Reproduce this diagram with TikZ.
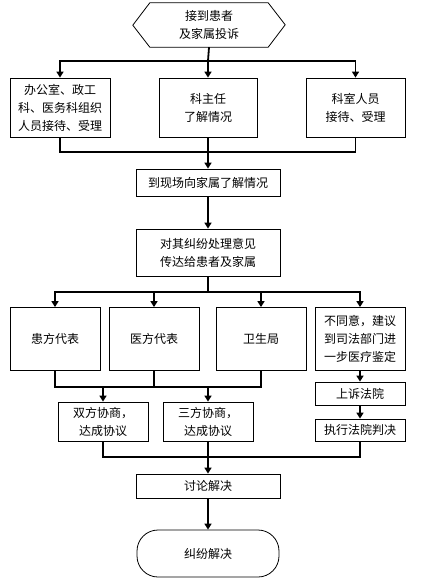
\documentclass[tikz,border=0pt]{standalone}
\usepackage{fontspec}
\newfontfamily\cjk{Noto Sans CJK SC}
\usetikzlibrary{arrows.meta}
\begin{document}
\begin{tikzpicture}[x=1pt,y=-1pt,font=\cjk\fontsize{12}{18}\selectfont,
  box/.style={draw,line width=0.8pt,align=center,inner sep=0pt},
  conn/.style={line width=1.8pt},
  arr/.style={conn,-{Triangle[width=7pt,length=6pt]}}]
\useasboundingbox (0,0) rectangle (421,581);
% top
\node[align=center,minimum width=118,minimum height=44] (start) at (209,25) {接到患者\\及家属投诉};
\draw[line width=0.8pt] (start.north west) -- (start.north east) -- ++(17,22) -- (start.south east) -- (start.south west) -- ++(-17,-22) -- cycle;
\node[box,minimum width=100,minimum height=59] (b1) at (60,107.5) {办公室、政工\\科、医务科组织\\人员接待、受理};
\node[box,minimum width=98,minimum height=59] (b2) at (208,107.5) {科主任\\了解情况};
\node[box,minimum width=99,minimum height=59] (b3) at (355.5,107.5) {科室人员\\接待、受理};
\node[box,minimum width=144,minimum height=27] (visit) at (208,182.5) {到现场向家属了解情况};
\node[box,minimum width=144,minimum height=47] (advise) at (208,252.5) {对其纠纷处理意见\\传达给患者及家属};
% middle row
\node[box,minimum width=90,minimum height=63] (p1) at (55,339) {患方代表};
\node[box,minimum width=90,minimum height=63] (p2) at (154,339) {医方代表};
\node[box,minimum width=90,minimum height=63] (p3) at (261,339) {卫生局};
\node[box,minimum width=90,minimum height=63] (p4) at (360,339) {不同意，建议\\到司法部门进\\一步医疗鉴定};
\node[box,minimum width=90,minimum height=39] (n1) at (103,421.5) {双方协商，\\达成协议};
\node[box,minimum width=90,minimum height=39] (n2) at (208,421.5) {三方协商，\\达成协议};
\node[box,minimum width=90,minimum height=23] (court) at (360,393.5) {上诉法院};
\node[box,minimum width=90,minimum height=22] (exec) at (360,430) {执行法院判决};
% bottom
\node[box,minimum width=144,minimum height=24] (talk) at (208,486) {讨论解决};
\node[draw,line width=0.8pt,rounded corners=21pt,minimum width=142,minimum height=47] (end) at (208,553.5) {纠纷解决};
% connectors
\coordinate (j1) at (208,61);
\coordinate (j2) at (208,152);
\coordinate (j3) at (208,292);
\coordinate (j4) at (154,387);
\coordinate (j5) at (208,457);
\draw[conn] (start.south) -- (j1);
\foreach \n in {b1,b2,b3} \draw[arr] (j1) -| (\n.north);
\foreach \n in {b1,b2,b3} \draw[conn] (\n.south) |- (j2);
\draw[arr] (j2) -- (visit.north);
\draw[arr] (visit) -- (advise);
\draw[conn] (advise.south) -- (j3);
\foreach \n in {p1,p2,p3,p4} \draw[arr] (j3) -| (\n.north);
\foreach \n in {p1,p2,p3} \draw[conn] (\n.south) |- (j4);
\foreach \n in {n1,n2} \draw[arr] (j4) -| (\n.north);
\draw[arr] (p4) -- (court);
\draw[arr] (court) -- (exec);
\foreach \n in {n1,n2,exec} \draw[conn] (\n.south) |- (j5);
\draw[arr] (j5) -- (talk.north);
\draw[arr] (talk) -- (end);
\end{tikzpicture}
\end{document}
